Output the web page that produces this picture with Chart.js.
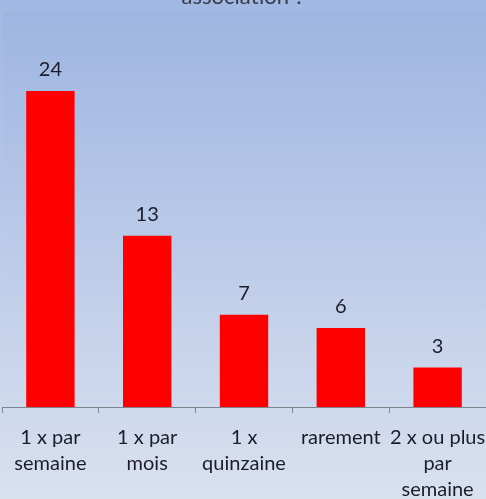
<!DOCTYPE html>
<html>
<head>
<meta charset="utf-8">
<script src="https://cdn.jsdelivr.net/npm/chart.js@4"></script>
<style>
html, body { margin: 0; padding: 0; overflow: hidden; }
body {
	width: 486px; height: 499px;
	background: linear-gradient(to bottom, #a0b8e3 0%, #bccbe9 50%, #d9e1ef 100%);
}
#wrap { position: relative; width: 486px; height: 499px; }
</style>
</head>
<body>
<div id="wrap"><canvas id="chart"></canvas></div>
<script>
const titleText = "association ?";
const categories = [
	["1 x par", "semaine"],
	["1 x par", "mois"],
	["1 x", "quinzaine"],
	["rarement"],
	["2 x ou plus", "par", "semaine"]
];
const values = [24, 13, 7, 6, 3];

const FONT = "Lato, 'Open Sans', sans-serif";

// title sits mostly above the top edge, only its bottom shows
const clippedTitle = {
	id: "clippedTitle",
	afterDraw(chart) {
		const ctx = chart.ctx;
		ctx.save();
		ctx.font = "22px " + FONT;
		ctx.fillStyle = "#3a3a44";
		ctx.textAlign = "center";
		ctx.textBaseline = "alphabetic";
		ctx.fillText(titleText, 243, 4);
		ctx.restore();
	}
};

// value above each bar
const barValues = {
	id: "barValues",
	afterDatasetsDraw(chart) {
		const ctx = chart.ctx;
		const meta = chart.getDatasetMeta(0);
		ctx.save();
		ctx.font = "20px " + FONT;
		ctx.fillStyle = "#1c1c2a";
		ctx.textAlign = "center";
		ctx.textBaseline = "middle";
		meta.data.forEach((bar, i) => {
			ctx.fillText(String(values[i]), bar.x, bar.y - 21);
		});
		ctx.restore();
	}
};

// slightly darker plot area panel
const plotPanel = {
	id: "plotPanel",
	beforeDraw(chart) {
		const ctx = chart.ctx;
		const a = chart.chartArea;
		const g = ctx.createLinearGradient(0, a.top, 0, a.bottom);
		g.addColorStop(0, "rgba(150,175,222,0.35)");
		g.addColorStop(1, "rgba(210,220,238,0.2)");
		ctx.save();
		ctx.fillStyle = g;
		ctx.fillRect(a.left + 1, a.top, a.right - a.left - 1, a.bottom - a.top);
		ctx.restore();
	}
};

new Chart(document.getElementById("chart"), {
	type: "bar",
	data: {
		labels: categories,
		datasets: [{
			data: values,
			backgroundColor: "#ff0000",
			borderWidth: 0,
			barPercentage: 1,
			categoryPercentage: 0.5
		}]
	},
	options: {
		responsive: true,
		maintainAspectRatio: false,
		animation: false,
		layout: { padding: { top: 12, left: 2, right: 0, bottom: 0 } },
		plugins: {
			legend: { display: false },
			tooltip: { enabled: false }
		},
		scales: {
			x: {
				afterFit(scale) {
					scale.height = 92;
					scale.paddingLeft = 0;
					scale.paddingRight = 0;
				},
				grid: {
					offset: true,
					drawOnChartArea: false,
					drawTicks: true,
					tickLength: 6,
					color: "#7f8590"
				},
				border: { display: true, color: "#7f8590", width: 1 },
				ticks: {
					color: "#1c1c2a",
					padding: 12,
					maxRotation: 0,
					autoSkip: false,
					font: { family: FONT, size: 20, lineHeight: 1.3 }
				}
			},
			y: {
				display: false,
				min: 0,
				max: 30
			}
		}
	},
	plugins: [plotPanel, barValues, clippedTitle]
});
</script>
</body>
</html>
